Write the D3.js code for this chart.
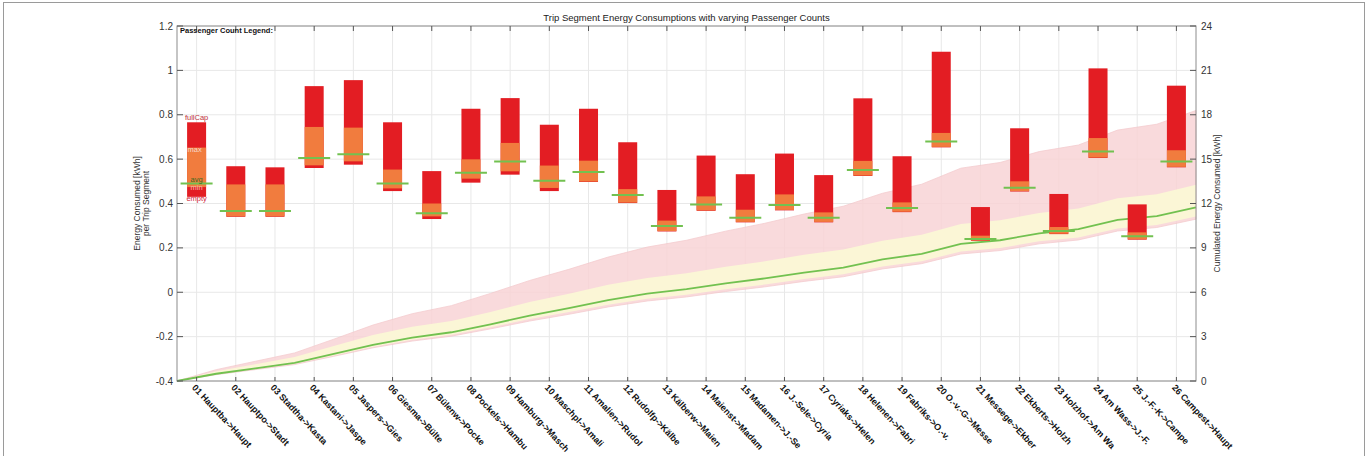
<!DOCTYPE html>
<html>
<head>
<meta charset="utf-8">
<script src="https://cdn.jsdelivr.net/npm/d3@7"></script>
<style>
  body { margin: 0; background: #fff; }
  svg { display: block; font-family: "Liberation Sans", Arial, sans-serif; }
</style>
</head>
<body>
<svg id="chart" width="1368" height="456"></svg>
<script>
// trip segments
const segments = [
  "01 Hauptba->Haupt", "02 Hauptpo->Stadt", "03 Stadtha->Kasta", "04 Kastani->Jaspe",
  "05 Jaspers->Gies", "06 Giesma->Bülte", "07 Bülenw->Pocke", "08 Pockels->Hambu",
  "09 Hamburg->Masch", "10 Maschpl->Amali", "11 Amalien->Rudol", "12 Rudolfp->Kälbe",
  "13 Kälberw->Maien", "14 Maienst->Madam", "15 Madamen->J.-Se", "16 J.-Sele->Cyria",
  "17 Cyriaks->Helen", "18 Helenen->Fabri", "19 Fabriks->O.-v.", "20 O.-v.-G->Messe",
  "21 Messege->Ekber", "22 Ekberts->Holzh", "23 Holzhof->Am Wa", "24 Am Wass->J.-F.",
  "25 J.-F.-K->Campe", "26 Campest->Haupt"
];

// energy per segment [kWh] for the passenger cases
const fullCap = [0.766, 0.568, 0.563, 0.929, 0.956, 0.766, 0.546, 0.827, 0.875, 0.755, 0.827, 0.676, 0.461,
                 0.616, 0.532, 0.625, 0.528, 0.874, 0.613, 1.084, 0.384, 0.739, 0.443, 1.009, 0.396, 0.931];
const maxPax = [0.652, 0.486, 0.486, 0.745, 0.742, 0.553, 0.400, 0.599, 0.673, 0.571, 0.593, 0.465, 0.323,
                0.432, 0.372, 0.441, 0.360, 0.592, 0.405, 0.718, 0.255, 0.500, 0.294, 0.695, 0.270, 0.640];
const avgPax = [0.490, 0.366, 0.366, 0.605, 0.622, 0.490, 0.356, 0.539, 0.589, 0.503, 0.542, 0.438, 0.299,
                0.396, 0.336, 0.393, 0.336, 0.551, 0.380, 0.679, 0.240, 0.471, 0.276, 0.634, 0.252, 0.589];
const minPax = [0.474, 0.342, 0.342, 0.572, 0.590, 0.468, 0.342, 0.512, 0.545, 0.470, 0.499, 0.404, 0.276,
                0.369, 0.317, 0.371, 0.317, 0.526, 0.363, 0.655, 0.234, 0.456, 0.264, 0.607, 0.239, 0.565];
const empty = [0.430, 0.340, 0.340, 0.560, 0.575, 0.456, 0.330, 0.494, 0.530, 0.456, 0.497, 0.402, 0.274,
               0.367, 0.315, 0.369, 0.315, 0.524, 0.361, 0.653, 0.232, 0.454, 0.262, 0.605, 0.237, 0.563];

const leftTicks = [-0.4, -0.2, 0, 0.2, 0.4, 0.6, 0.8, 1, 1.2];
const rightTicks = [0, 3, 6, 9, 12, 15, 18, 21, 24];

const svg = d3.select("#chart");
const pLeft = 177, pRight = 1196, pTop = 26, pBottom = 381;

const x = d3.scaleLinear().domain([0.5, segments.length + 0.5]).range([pLeft, pRight]);
const yL = d3.scaleLinear().domain([-0.4, 1.2]).range([pBottom, pTop]);
const yR = d3.scaleLinear().domain([0, 24]).range([pBottom, pTop]);

const red = "#e31d23", orange = "#f17c3e", green = "#72c150";

// outer frame
svg.append("rect")
    .attr("x", 3.5).attr("y", 2.5).attr("width", 1361).attr("height", 470)
    .attr("fill", "none").attr("stroke", "#9a9a9a").attr("stroke-width", 1);

// grid
const grid = svg.append("g").attr("stroke", "#e8e8e8").attr("stroke-width", 1);
grid.selectAll(".gv").data(segments).enter().append("line")
    .attr("x1", (d, i) => x(i + 1)).attr("x2", (d, i) => x(i + 1))
    .attr("y1", pTop).attr("y2", pBottom);
grid.selectAll(".gh").data(leftTicks).enter().append("line")
    .attr("x1", pLeft).attr("x2", pRight)
    .attr("y1", d => yL(d)).attr("y2", d => yL(d));

// cumulated energy bands and line
const steps = d3.range(0, segments.length + 1);
const cum = arr => [0, ...d3.cumsum(arr)];
const cFull = cum(fullCap), cMax = cum(maxPax), cAvg = cum(avgPax), cMin = cum(minPax), cEmpty = cum(empty);

svg.append("path")
    .attr("fill", "#f9d4d6").attr("opacity", 0.85)
    .attr("stroke", "#f3c4c8").attr("stroke-width", 0.8)
    .attr("d", d3.area().x(i => x(i + 0.5)).y0(i => yR(cEmpty[i])).y1(i => yR(cFull[i]))(steps));
svg.append("path")
    .attr("fill", "#fbf6d6")
    .attr("d", d3.area().x(i => x(i + 0.5)).y0(i => yR(cMin[i])).y1(i => yR(cMax[i]))(steps));
svg.append("path")
    .attr("fill", "none").attr("stroke", green).attr("stroke-width", 1.8)
    .attr("d", d3.line().x(i => x(i + 0.5)).y(i => yR(cAvg[i]))(steps));

// bars
const bw = 19;
const bars = svg.append("g");
bars.selectAll(".full").data(segments).enter().append("rect")
    .attr("x", (d, i) => x(i + 1) - bw / 2).attr("width", bw)
    .attr("y", (d, i) => yL(fullCap[i]))
    .attr("height", (d, i) => yL(empty[i]) - yL(fullCap[i]))
    .attr("fill", red);
bars.selectAll(".range").data(segments).enter().append("rect")
    .attr("x", (d, i) => x(i + 1) - bw / 2).attr("width", bw)
    .attr("y", (d, i) => yL(maxPax[i]))
    .attr("height", (d, i) => yL(minPax[i]) - yL(maxPax[i]))
    .attr("fill", orange);
bars.selectAll(".avg").data(segments).enter().append("line")
    .attr("x1", (d, i) => x(i + 1) - 16).attr("x2", (d, i) => x(i + 1) + 16)
    .attr("y1", (d, i) => yL(avgPax[i])).attr("y2", (d, i) => yL(avgPax[i]))
    .attr("stroke", green).attr("stroke-width", 2);

// legend labels on first bar
const lg = svg.append("g").attr("font-size", 7.5).attr("text-anchor", "middle");
const lx = x(1);
lg.append("text").attr("x", lx).attr("y", yL(fullCap[0]) - 2).attr("fill", "#c0313a").text("fullCap");
lg.append("text").attr("x", lx - 2).attr("y", yL(maxPax[0]) + 4).attr("fill", "#f6d8cc").text("max");
lg.append("text").attr("x", lx).attr("y", yL(avgPax[0]) - 2).attr("fill", "#3d6b1f").text("avg");
lg.append("text").attr("x", lx).attr("y", yL(avgPax[0]) + 6).attr("fill", "#f4b8a8").text("min");
lg.append("text").attr("x", lx).attr("y", yL(empty[0]) + 4).attr("fill", "#d0263a").text("empty");

// plot box
const box = svg.append("g").attr("stroke", "#8c8c8c").attr("fill", "none");
box.append("rect").attr("x", pLeft).attr("y", pTop).attr("width", pRight - pLeft).attr("height", pBottom - pTop);

// ticks
const tk = svg.append("g").attr("stroke", "#555");
tk.selectAll(".tt").data(segments).enter().append("line")
    .attr("x1", (d, i) => x(i + 1)).attr("x2", (d, i) => x(i + 1))
    .attr("y1", pTop).attr("y2", pTop + 5);
tk.selectAll(".tb").data(segments).enter().append("line")
    .attr("x1", (d, i) => x(i + 1)).attr("x2", (d, i) => x(i + 1))
    .attr("y1", pBottom).attr("y2", pBottom - 4);
tk.selectAll(".tl").data(leftTicks).enter().append("line")
    .attr("x1", pLeft).attr("x2", pLeft + 6)
    .attr("y1", d => yL(d)).attr("y2", d => yL(d));
tk.selectAll(".tr").data(rightTicks).enter().append("line")
    .attr("x1", pRight - 6).attr("x2", pRight)
    .attr("y1", d => yR(d)).attr("y2", d => yR(d));

// tick labels
svg.append("g").attr("font-size", 10).attr("fill", "#333").attr("text-anchor", "end")
    .selectAll("text").data(leftTicks).enter().append("text")
    .attr("x", pLeft - 4).attr("y", d => yL(d) + 3.5).text(d => String(d));
svg.append("g").attr("font-size", 10).attr("fill", "#333")
    .selectAll("text").data(rightTicks).enter().append("text")
    .attr("x", pRight + 5).attr("y", d => yR(d) + 3.5).text(d => d);

svg.append("g").attr("font-size", 9).attr("font-weight", "bold").attr("fill", "#111")
    .selectAll("text").data(segments).enter().append("text")
    .attr("transform", (d, i) => `translate(${x(i + 1) - 5},${pBottom + 7}) rotate(47)`)
    .text(d => d);

// titles
svg.append("text").attr("x", (pLeft + pRight) / 2).attr("y", 21)
    .attr("text-anchor", "middle").attr("font-size", 9.5).attr("fill", "#222")
    .text("Trip Segment Energy Consumptions with varying Passenger Counts");
svg.append("text").attr("x", pLeft + 3).attr("y", 33)
    .attr("font-size", 7.5).attr("font-weight", "bold").attr("fill", "#111")
    .text("Passenger Count Legend:");

const ymid = (pTop + pBottom) / 2;
svg.append("text").attr("transform", `translate(140,${ymid}) rotate(-90)`)
    .attr("text-anchor", "middle").attr("font-size", 8.5).attr("fill", "#333")
    .text("Energy Consumed [kWh]");
svg.append("text").attr("transform", `translate(149,${ymid}) rotate(-90)`)
    .attr("text-anchor", "middle").attr("font-size", 8.5).attr("fill", "#333")
    .text("per Trip Segment");
svg.append("text").attr("transform", `translate(1220,${ymid}) rotate(-90)`)
    .attr("text-anchor", "middle").attr("font-size", 8.5).attr("fill", "#333")
    .text("Cumulated Energy Consumed [kWh]");
</script>
</body>
</html>
